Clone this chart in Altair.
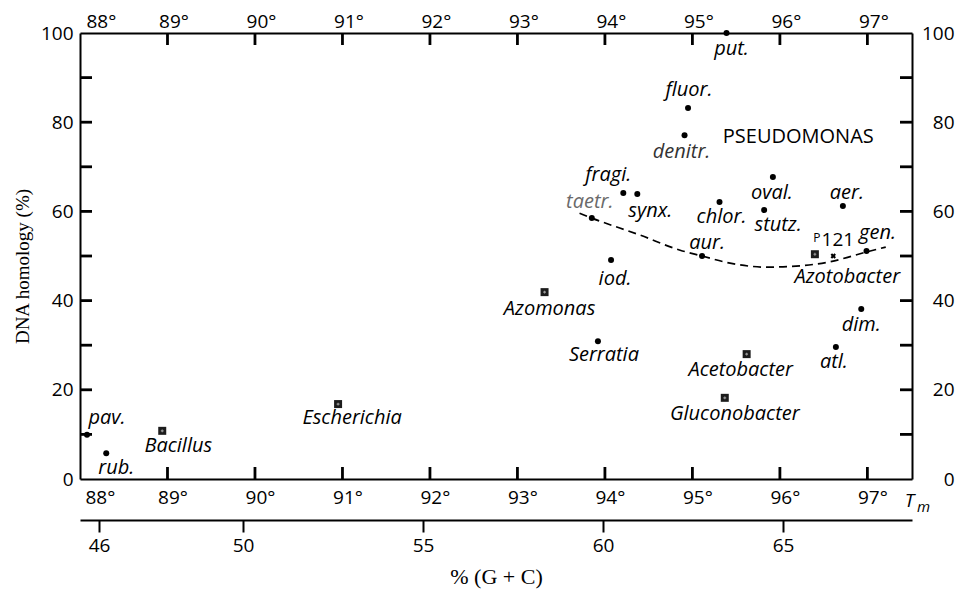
import altair as alt
import pandas as pd

# ---------------------------------------------------------------------------
# Data: melting temperature (Tm, deg C) vs. DNA homology (%) per strain
# ---------------------------------------------------------------------------
names = ["put.", "fluor.", "denitr.", "fragi.", "synx.", "taetr.", "chlor.",
         "oval.", "stutz.", "aer.", "aur.", "iod.", "gen.", "dim.", "atl.",
         "Serratia", "pav.", "rub.", "P121", "Azomonas", "Acetobacter",
         "Gluconobacter", "Escherichia", "Bacillus", "Azotobacter"]
tm_values = [95.39, 94.95, 94.91, 94.21, 94.37, 93.85, 95.31,
             95.92, 95.82, 96.72, 95.11, 94.07, 96.99, 96.93, 96.64,
             93.92, 88.08, 88.30, 96.40, 93.31, 95.62,
             95.37, 90.95, 88.94, 96.61]
homology = [100.0, 83.2, 77.1, 64.1, 63.9, 58.5, 62.1,
            67.7, 60.3, 61.2, 50.0, 49.1, 51.1, 38.1, 29.6,
            30.9, 9.9, 5.8, 50.4, 41.9, 28.0,
            18.2, 16.8, 10.8, 50.0]
marker = ["dot"] * 18 + ["square"] * 6 + ["cross"]

# dashed trend line through the Pseudomonas / Azotobacter boundary
curve_tm = [93.71, 93.85, 94.40, 94.86, 95.11, 95.43, 95.85, 96.23, 96.57, 96.99, 97.21]
curve_hom = [59.6, 58.5, 54.7, 51.3, 50.0, 48.4, 47.5, 47.8, 48.7, 50.9, 52.0]

# genus caption
genus_label = "PSEUDOMONAS"
genus_tm = 96.21
genus_hom = 76.7

# axis ticks
tm_ticks = [88, 89, 90, 91, 92, 93, 94, 95, 96, 97]
gc_ticks = [46, 50, 55, 60, 65]
hom_labels = [0, 20, 40, 60, 80, 100]
hom_minor = [10, 20, 30, 40, 50, 60, 70, 80, 90]

# ---------------------------------------------------------------------------
# Layout
# ---------------------------------------------------------------------------
W, H = 832, 446
X_DOM = [88.0, 97.51]
Y_DOM = [0, 100]
GC_DOM = [45.47, 68.58]
FONT = "Open Sans"
SERIF = "Liberation Serif"
TICK = 12      # length of the inward frame ticks, px
TICK_W = 1.4   # half thickness of a frame tick, px

# label offsets from their marker, in pixels (dx, dy)
label_offsets = {
    "put.": (5, 16), "fluor.": (1, -18), "denitr.": (-3, 17),
    "fragi.": (-15, -18), "synx.": (13, 17), "taetr.": (-2, -16),
    "chlor.": (2, 15), "oval.": (-1, 16), "stutz.": (14, 15),
    "aer.": (4, -13), "aur.": (5, -13), "iod.": (4, 19), "gen.": (11, -18),
    "dim.": (0, 16), "atl.": (-2, 15), "Serratia": (6, 14),
    "pav.": (20, -17), "rub.": (10, 15), "Azomonas": (5, 17),
    "Acetobacter": (-6, 16), "Gluconobacter": (10, 16),
    "Escherichia": (14, 14), "Bacillus": (16, 15), "Azotobacter": (14, 21),
}
faded = {"taetr.": "#6a6a6a", "denitr.": "#333333"}

PX_X = (X_DOM[1] - X_DOM[0]) / W
PX_Y = (Y_DOM[1] - Y_DOM[0]) / H

pts = pd.DataFrame({"name": names, "tm": tm_values, "hom": homology, "kind": marker})
lookup = pts.set_index("name")

rows = []
for name, (dx, dy) in label_offsets.items():
    p = lookup.loc[name]
    rows.append({"text": name, "lx": p.tm + dx * PX_X, "ly": p.hom - dy * PX_Y,
                 "color": faded.get(name, "black")})
italic_labels = pd.DataFrame(rows)

p121 = lookup.loc["P121"]
upright_labels = pd.DataFrame([
    {"text": genus_label, "lx": genus_tm, "ly": genus_hom, "fs": 20},
    {"text": "P", "lx": p121.tm + 2 * PX_X, "ly": p121.hom + 16 * PX_Y, "fs": 12},
    {"text": "121", "lx": p121.tm + 23 * PX_X, "ly": p121.hom + 14 * PX_Y, "fs": 19},
])

curve = pd.DataFrame({"tm": curve_tm, "hom": curve_hom})
frame = pd.DataFrame({"tm": X_DOM, "hom": Y_DOM, "gc": [GC_DOM[0], GC_DOM[1]]})

# inward frame ticks as thin bars, in data units so they follow the scales
tick_rows = []
for t in tm_ticks[1:]:
    for y0, y1 in ((Y_DOM[0], Y_DOM[0] + TICK * PX_Y), (Y_DOM[1], Y_DOM[1] - TICK * PX_Y)):
        tick_rows.append({"x0": t - TICK_W * PX_X, "x1": t + TICK_W * PX_X,
                          "y0": y0, "y1": y1})
for h in hom_minor:
    for x0, x1 in ((X_DOM[0], X_DOM[0] + TICK * PX_X), (X_DOM[1], X_DOM[1] - TICK * PX_X)):
        tick_rows.append({"x0": x0, "x1": x1,
                          "y0": h - TICK_W * PX_Y, "y1": h + TICK_W * PX_Y})
frame_ticks = pd.DataFrame(tick_rows)

deg = "datum.value + '°'"

xscale = alt.Scale(domain=X_DOM, nice=False, zero=False)
yscale = alt.Scale(domain=Y_DOM, nice=False)

x_main_axis = alt.Axis(orient="bottom", values=tm_ticks, labelExpr=deg, ticks=False,
                       domain=True, labelPadding=9, labelOffset=5, labelOverlap=False,
                       title="T", titleFontStyle="italic", titleFont=FONT,
                       titleFontSize=19, titleFontWeight="normal", titleX=829,
                       titleY=21, titleBaseline="middle", titleAlign="center",
                       grid=False)
y_main_axis = alt.Axis(orient="left", values=hom_labels, ticks=False, domain=True,
                       labelPadding=7, labelOverlap=False, title="DNA homology (%)",
                       titleFont=SERIF, titleFontSize=19, titleFontWeight="normal",
                       titleX=-58, titleY=233, titleBaseline="middle",
                       titleAlign="center", grid=False)


def xenc(field):
    return alt.X(f"{field}:Q", scale=xscale, axis=x_main_axis)


def yenc(field):
    return alt.Y(f"{field}:Q", scale=yscale, axis=y_main_axis)


ticks_layer = alt.Chart(frame_ticks).mark_rect(color="black", opacity=1).encode(
    x=xenc("x0"), x2="x1:Q", y=yenc("y0"), y2="y1:Q")

dots = alt.Chart(pts[pts.kind == "dot"]).mark_circle(size=36, color="black", opacity=1).encode(
    x=xenc("tm"), y=yenc("hom"))
squares = alt.Chart(pts[pts.kind == "square"]).mark_square(size=64, color="#1c1c1c", opacity=1).encode(
    x=xenc("tm"), y=yenc("hom"))
square_inner = alt.Chart(pts[pts.kind == "square"]).mark_point(
    shape="cross", filled=True, size=8, color="#9a9a9a", opacity=1).encode(
    x=xenc("tm"), y=yenc("hom"))
crosses = alt.Chart(pts[pts.kind == "cross"]).mark_point(
    shape="cross", angle=45, filled=True, size=30, color="black", opacity=1).encode(
    x=xenc("tm"), y=yenc("hom"))
trend = alt.Chart(curve).mark_line(color="black", strokeDash=[8, 5], strokeWidth=1.7,
                                   interpolate="monotone").encode(
    x=xenc("tm"), y=yenc("hom"))
italic_text = alt.Chart(italic_labels).mark_text(
    font=FONT, fontSize=20, fontStyle="italic", align="center", baseline="middle").encode(
    x=xenc("lx"), y=yenc("ly"), text="text:N", color=alt.Color("color:N", scale=None))
upright_text = alt.Chart(upright_labels).mark_text(
    font=FONT, align="center", baseline="middle", color="black").encode(
    x=xenc("lx"), y=yenc("ly"), text="text:N", size=alt.Size("fs:Q", scale=None))

data_layer = alt.layer(ticks_layer, trend, dots, squares, square_inner, crosses,
                       italic_text, upright_text)

ghost = alt.Chart(frame).mark_point(opacity=0)

# top Tm labels and right homology labels (frame edges), plus the subscript of T_m
top_right = ghost.encode(
    x=alt.X("tm:Q", scale=xscale, axis=alt.Axis(
        orient="top", values=tm_ticks, labelExpr=deg, ticks=False, domain=True,
        labelPadding=2, labelOffset=6, labelOverlap=False,
        title="m", titleFont=FONT, titleFontSize=15, titleFontStyle="italic",
        titleFontWeight="normal", titleX=843, titleY=473, titleBaseline="middle",
        titleAlign="center", grid=False)),
    y=alt.Y("hom:Q", scale=yscale, axis=alt.Axis(
        orient="right", values=hom_labels, ticks=False, domain=True, labelAlign="right",
        labelPadding=42, labelOverlap=False, title=None, grid=False)),
)

# secondary scale: G+C content
gc_axis = ghost.encode(
    x=alt.X("gc:Q", scale=alt.Scale(domain=GC_DOM, nice=False, zero=False), axis=alt.Axis(
        orient="bottom", offset=41, values=gc_ticks, ticks=True, tickSize=12, domain=True,
        labelPadding=4, title="% (G + C)", titleFont=SERIF, titleFontSize=22,
        titleFontWeight="normal", titleX=W / 2, titleY=56, titleBaseline="middle",
        titleAlign="center", grid=False)),
)

chart = alt.layer(data_layer, top_right, gc_axis).resolve_scale(
    x="independent", y="independent"
).properties(
    width=W, height=H,
    autosize=alt.AutoSizeParams(type="none"),
    padding={"left": 80, "top": 33, "right": 49, "bottom": 115},
    background="white",
).configure_view(stroke=None).configure_axis(
    labelFont=FONT, labelFontSize=19, labelColor="black",
    domainColor="black", domainWidth=2, tickColor="black", tickWidth=2,
)

chart.save("out.html", embed_options={"renderer": "svg", "actions": False})
